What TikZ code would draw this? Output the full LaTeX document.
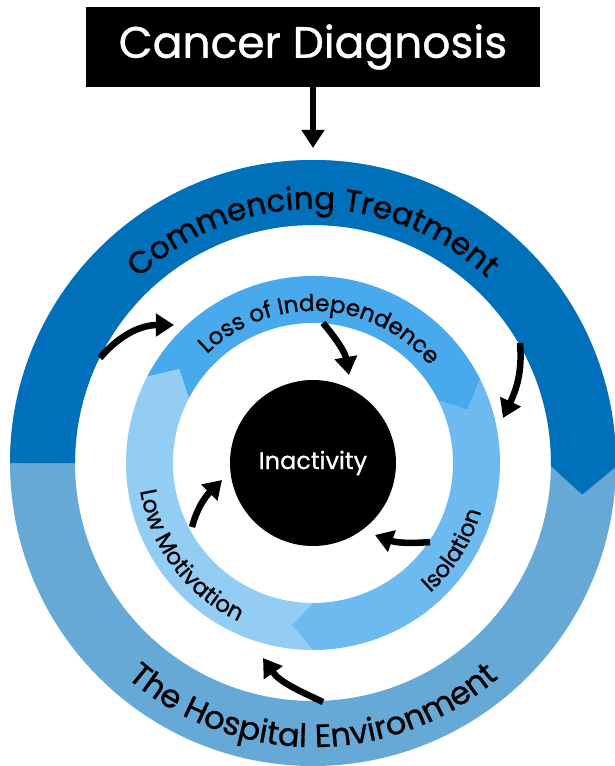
\documentclass[tikz,border=0pt]{standalone}
\usepackage{fontspec}
\newfontfamily\gotham{Poppins}[FakeBold=0.9]
\usetikzlibrary{positioning, arrows.meta, decorations.text}

\definecolor{treatblue}{RGB}{0,112,187}
\definecolor{envblue}{RGB}{103,169,214}
\definecolor{lossblue}{RGB}{72,169,236}
\definecolor{isoblue}{RGB}{109,186,240}
\definecolor{lowblue}{RGB}{147,205,243}

\begin{document}
\begin{tikzpicture}[x=1pt, y=1pt,
  cycle arrow/.style={line width=6.5pt, -{Triangle[width=22pt,length=18pt]}},
  ring label/.style={decorate, decoration={text along path, text align=center, text={#1}}},
  black box/.style={fill=black, text=white, inner sep=0pt}]

\useasboundingbox (-313,-303) rectangle (301,463);

% outer ring
\fill[envblue, even odd rule] (0,0) circle[radius=303] (0,0) circle[radius=238];
\fill[treatblue] (180:303) arc[start angle=180, end angle=-0.7, radius=303]
  -- (-6.7:271) -- (-0.7:238) arc[start angle=-0.7, end angle=180, radius=238] -- cycle;

% inner ring
\fill[lossblue] (152.5:187) arc[start angle=152.5, end angle=26.5, radius=187]
  -- (19:163.5) -- (26.5:140) arc[start angle=26.5, end angle=152.5, radius=140] -- (145:163.5) -- cycle;
\fill[isoblue] (26.5:187) arc[start angle=26.5, end angle=-90, radius=187]
  -- (-97.5:163.5) -- (-90:140) arc[start angle=-90, end angle=26.5, radius=140] -- (19:163.5) -- cycle;
\fill[lowblue] (270:187) arc[start angle=270, end angle=152.5, radius=187]
  -- (145:163.5) -- (152.5:140) arc[start angle=152.5, end angle=270, radius=140] -- (262.5:163.5) -- cycle;

% ring labels
\path[ring label={|\gotham\fontsize{31}{36}\selectfont|Commencing Treatment}]
  (150:254) arc[start angle=150, end angle=30, radius=254];
\path[ring label={|\gotham\fontsize{32}{38}\selectfont|The Hospital Environment}]
  (-150:284) arc[start angle=-150, end angle=-30, radius=284];
\path[ring label={|\gotham\fontsize{23}{28}\selectfont|Loss of Independence}]
  (147:152) arc[start angle=147, end angle=27, radius=152];
\path[ring label={|\gotham\fontsize{23}{28}\selectfont|Isolation}]
  (-62:175) arc[start angle=-62, end angle=-2, radius=175];
\path[ring label={|\gotham\fontsize{23}{28}\selectfont|Low Motivation}]
  (-203:175) arc[start angle=-203, end angle=-83, radius=175];

% nodes
\node[black box, minimum width=454pt, minimum height=80pt, font=\gotham\fontsize{44}{50}\selectfont]
  (diag) at (0,416) {Cancer Diagnosis};
\node[black box, circle, minimum size=166pt, font=\gotham\fontsize{24}{28}\selectfont]
  (inact) at (0,0) {Inactivity};

% arrow ends
\coordinate (ring top) at (0,315);
\coordinate (treat out) at (-213,105);
\coordinate (loss in) at (-139,138);
\coordinate (treat end) at (207,120);
\coordinate (iso in) at (190,45);
\coordinate (loss out) at (10,140);
\coordinate (loss tip) at (36,88);
\coordinate (iso out) at (117,-79);
\coordinate (iso tip) at (62,-72);
\coordinate (low out) at (-121,-64);
\coordinate (low tip) at (-91,-17);
\coordinate (env out) at (10,-239);
\coordinate (low in) at (-50,-195);

\draw[cycle arrow] (diag) -- (ring top);
\draw[cycle arrow] (treat out) to[out=50, in=180] (loss in);
\draw[cycle arrow] (treat end) to[out=-85, in=65] (iso in);
\draw[cycle arrow] (loss out) to[out=-50, in=100] (loss tip);
\draw[cycle arrow] (iso out) to[out=185, in=-20] (iso tip);
\draw[cycle arrow] (low out) to[out=75, in=225] (low tip);
\draw[cycle arrow] (env out) to[out=155, in=-55] (low in);
\end{tikzpicture}
\end{document}
